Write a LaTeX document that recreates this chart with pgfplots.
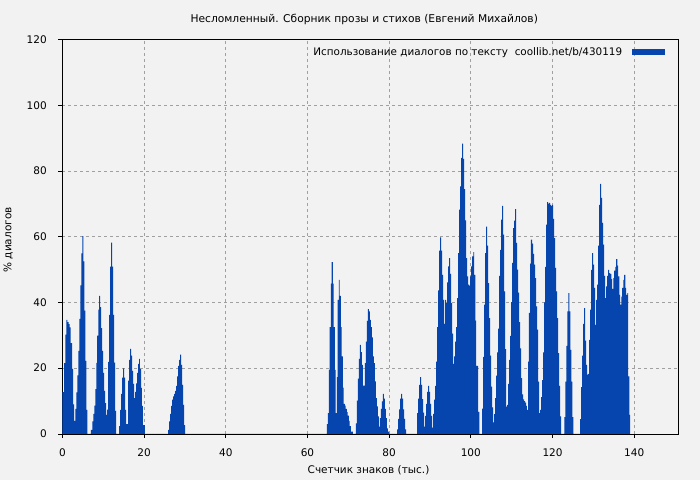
\documentclass[border=0pt]{standalone}
\usepackage{fontspec}
\setmainfont{DejaVu Sans}
\usepackage{pgfplots}
\pgfplotsset{compat=1.18}
\definecolor{bg}{RGB}{242,242,242}
\definecolor{barblue}{RGB}{6,69,173}
\definecolor{gridgray}{RGB}{160,160,160}
\begin{document}
\fontsize{10.5bp}{12bp}\selectfont
\begin{tikzpicture}
\fill[bg] (0bp,0bp) rectangle (700bp,480bp);
\begin{axis}[
  at={(62.3bp,46bp)}, anchor=south west,
  scale only axis, width=616bp, height=394.5bp,
  xmin=0, xmax=150.8, ymin=0, ymax=120,
  xtick={0,20,...,140}, ytick={0,20,...,120},
  /pgf/number format/assume math mode=true,
  tick label style={font=\fontsize{10.5bp}{12bp}\selectfont, black},
  yticklabel style={xshift=-8bp},
  xticklabel style={yshift=-6.7bp},
  major tick length=4bp, tick align=outside,
  xtick pos=bottom, ytick pos=left,
  tick style={black, line width=0.8bp},
  axis line style={black, line width=0.8bp},
  grid=major,
  major grid style={gridgray, dash pattern=on 3bp off 3bp, line width=0.8bp},
  title={Несломленный. Сборник прозы и стихов (Евгений Михайлов)},
  title style={at={(axis description cs:0.49,1)}, anchor=center, yshift=14.5bp, font=\fontsize{10.7bp}{12bp}\selectfont},
  xlabel={Счетчик знаков (тыс.)},
  xlabel style={at={(axis description cs:0.497,0)}, anchor=center, yshift=-36bp, font=\fontsize{10.5bp}{12bp}\selectfont},
  ylabel={\% диалогов},
  ylabel style={at={(axis description cs:-0.0882,0.492)}, anchor=center, font=\fontsize{10.5bp}{12bp}\selectfont},
  legend plot pos=right,
  legend style={draw=none, fill=none, at={(1,1)}, anchor=north east, xshift=-13bp, yshift=-5.5bp, inner sep=0pt, font=\fontsize{10.4bp}{12bp}\selectfont},
  legend image code/.code={\path (0bp,0bp); \fill[barblue] (8bp,-3bp) rectangle (41bp,3bp);},
]
\addplot[fill=barblue, draw=none, const plot] coordinates {
(0,12.7)(0.41,21.5)(0.73,30.2)(0.97,34.7)(1.22,34.0)(1.54,33.4)(1.79,32.4)(2.03,27.6)(2.35,19.8)(2.60,9.0)(2.84,4.0)(3.17,7.6)(3.41,12.6)(3.65,17.8)(3.90,25.3)(4.14,35.0)(4.38,45.2)(4.63,54.9)(4.87,60.2)(5.11,52.5)(5.36,37.5)(5.60,22.2)(5.84,7.3)(6.09,0)
(6.98,1.2)(7.31,3.8)(7.55,6.1)(7.79,8.6)(8.04,13.6)(8.28,21.6)(8.52,29.9)(8.77,37.8)(9.01,42.0)(9.25,38.6)(9.50,32.2)(9.74,25.3)(9.98,18.6)(10.23,13.1)(10.47,9.4)(10.71,5.8)(10.96,7.4)(11.20,21.9)(11.44,36.2)(11.69,50.9)(11.93,58.2)(12.18,50.9)(12.42,36.2)(12.66,21.7)(12.91,7.0)(13.15,0)
(13.88,2.4)(14.12,7.3)(14.37,12.2)(14.61,17.1)(14.85,19.9)(15.10,17.1)(15.34,7.3)(15.58,3.0)(15.83,3.0)(16.07,16.2)(16.31,22.5)(16.56,25.9)(16.80,23.8)(17.05,19.2)(17.29,15.2)(17.53,10.9)(17.78,12.8)(18.02,15.4)(18.26,18.6)(18.51,21.3)(18.75,22.8)(18.99,19.8)(19.24,14.0)(19.48,8.5)(19.72,2.7)(20.21,0)
(25.89,1.2)(26.13,3.8)(26.38,6.1)(26.62,8.5)(26.87,10.4)(27.11,11.4)(27.36,12.2)(27.60,13.1)(27.85,14.6)(28.09,17.5)(28.34,20.7)(28.58,22.5)(28.83,24.1)(29.07,21.0)(29.32,14.9)(29.56,8.8)(29.81,2.7)(30.05,0)
(64.74,3.0)(64.97,6.3)(65.21,19.5)(65.45,32.5)(65.70,45.7)(65.94,52.3)(66.19,45.7)(66.43,32.5)(66.68,19.5)(66.92,6.3)(67.17,17.3)(67.41,40.8)(67.66,46.9)(67.90,42.0)(68.15,32.5)(68.39,23.6)(68.64,14.1)(68.88,9.1)(69.13,8.6)(69.37,7.6)(69.62,6.6)(69.86,5.6)(70.11,4.0)(70.35,2.4)(70.60,0.7)(71.09,0)
(71.84,3.2)(72.09,10.1)(72.33,16.8)(72.58,22.8)(72.82,27.1)(73.07,24.9)(73.31,21.0)(73.56,14.7)(73.80,14.7)(74.05,21.5)(74.29,28.1)(74.54,34.4)(74.78,38.0)(75.03,37.3)(75.27,34.7)(75.52,32.5)(75.76,29.4)(76.01,23.6)(76.25,21.5)(76.50,16.0)(76.74,10.9)(76.99,8.4)(77.23,5.3)(77.48,2.2)(77.72,4.8)(77.97,7.6)(78.21,9.9)(78.46,12.2)(78.70,10.7)(78.95,7.6)(79.19,4.8)(79.44,1.7)(79.68,0.7)(80.00,0)
(81.97,1.4)(82.21,4.6)(82.46,7.5)(82.70,10.7)(82.95,12.2)(83.19,10.7)(83.44,7.5)(83.68,4.6)(83.93,1.4)(84.17,0)
(86.86,6.3)(87.11,10.7)(87.36,14.9)(87.60,17.3)(87.85,14.9)(88.09,10.6)(88.34,6.5)(88.58,2.2)(88.83,5.5)(89.07,9.1)(89.32,12.8)(89.56,14.6)(89.81,12.8)(90.05,9.1)(90.30,5.5)(90.54,1.9)(90.79,6.1)(91.03,10.4)(91.28,14.6)(91.52,22.0)(91.77,32.5)(92.01,43.7)(92.26,55.8)(92.50,59.8)(92.75,55.8)(92.99,48.4)(93.24,40.8)(93.48,33.5)(93.73,40.8)(93.97,39.8)(94.22,46.1)(94.46,51.0)(94.71,53.5)(94.95,48.7)(95.20,39.8)(95.44,30.5)(95.69,21.3)(95.93,23.6)(96.18,28.1)(96.42,32.5)(96.67,41.3)(96.91,55.0)(97.16,68.2)(97.40,75.3)(97.65,84.0)(97.89,88.3)(98.14,83.7)(98.38,74.5)(98.63,65.0)(98.87,53.5)(99.12,47.9)(99.36,45.4)(99.61,45.1)(99.85,47.9)(100.10,51.0)(100.34,54.0)(100.59,55.3)(100.83,48.4)(101.08,34.5)(101.32,20.7)(101.57,20.7)(101.81,6.7)(102.06,0)
(102.79,7.7)(103.03,23.4)(103.28,39.3)(103.52,55.0)(103.77,63.1)(104.01,57.3)(104.26,45.9)(104.50,35.2)(104.75,23.8)(104.99,14.4)(105.24,8.1)(105.48,3.5)(105.73,6.0)(105.97,10.9)(106.22,17.7)(106.46,24.8)(106.71,32.0)(106.95,48.1)(107.19,56.0)(107.44,65.2)(107.68,69.4)(107.93,60.6)(108.17,43.4)(108.42,25.8)(108.66,8.3)(108.91,8.8)(109.15,15.2)(109.40,22.5)(109.64,29.8)(109.89,40.1)(110.13,52.0)(110.38,62.6)(110.62,64.9)(110.87,68.4)(111.11,58.1)(111.36,50.0)(111.60,43.0)(111.85,34.0)(112.09,26.0)(112.34,17.0)(112.58,12.0)(112.83,10.5)(113.07,10.0)(113.32,9.5)(113.56,8.5)(113.75,7.3)(114.00,22.0)(114.24,36.8)(114.49,51.8)(114.73,59.1)(114.98,57.9)(115.22,54.8)(115.47,51.5)(115.71,47.4)(115.96,38.8)(116.20,31.7)(116.45,15.9)(116.69,6.3)(116.94,7.3)(117.18,11.2)(117.43,16.4)(117.67,24.8)(117.92,40.0)(118.16,50.8)(118.41,63.7)(118.65,70.5)(118.90,70.1)(119.14,70.3)(119.39,69.7)(119.63,69.4)(119.88,69.7)(120.12,65.4)(120.37,59.6)(120.61,50.5)(120.86,43.4)(121.10,35.2)(121.35,24.6)(121.59,14.6)(121.84,5.3)(122.09,0)
(122.91,5.1)(123.15,15.9)(123.40,26.8)(123.64,37.3)(123.89,42.8)(124.13,37.3)(124.38,25.6)(124.62,15.9)(124.87,5.1)(125.11,0)
(126.78,4.5)(127.03,14.2)(127.27,23.8)(127.52,33.5)(127.76,38.3)(128.01,28.4)(128.25,21.0)(128.50,18.0)(128.74,18.3)(128.99,28.6)(129.23,37.8)(129.48,49.9)(129.72,55.0)(129.97,51.5)(130.21,44.4)(130.46,33.2)(130.70,40.8)(130.95,45.4)(131.19,57.3)(131.44,69.7)(131.68,76.1)(131.93,71.8)(132.17,64.2)(132.42,57.6)(132.66,48.1)(132.91,41.3)(133.15,44.9)(133.40,48.1)(133.64,49.9)(133.89,48.9)(134.13,48.7)(134.38,47.1)(134.62,44.1)(134.87,47.4)(135.11,49.7)(135.36,50.8)(135.60,53.2)(135.85,51.2)(136.09,47.9)(136.34,42.3)(136.58,39.3)(136.83,41.8)(137.07,44.4)(137.32,46.9)(137.56,48.4)(137.81,44.4)(138.05,42.3)(138.30,42.8)(138.54,17.5)(138.79,5.8)(139.03,0)
} \closedcycle;
\addlegendentry{Использование диалогов по тексту\ \ coollib.net/b/430119}
\end{axis}
\end{tikzpicture}
\end{document}
